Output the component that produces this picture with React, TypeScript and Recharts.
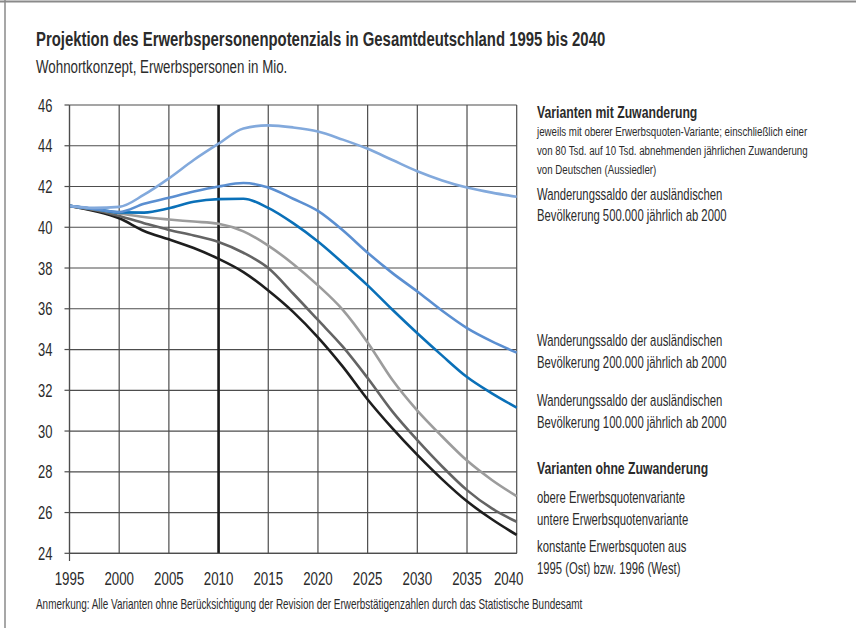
import React from "react";
import {
  CartesianGrid,
  Line,
  LineChart,
  ReferenceLine,
  XAxis,
  YAxis,
} from "recharts";

// Jahre (Stützstellen alle 2,5 Jahre)
const YEARS = [
  1995, 1997.5, 2000, 2002.5, 2005, 2007.5, 2010, 2012.5, 2015, 2017.5, 2020,
  2022.5, 2025, 2027.5, 2030, 2032.5, 2035, 2037.5, 2040,
];

// Varianten mit Zuwanderung
const SALDO_500 = [
  41.05, 40.95, 41.0, 41.6, 42.4, 43.3, 44.1, 44.85, 45.0, 44.9, 44.7, 44.3,
  43.85, 43.3, 42.75, 42.3, 41.95, 41.7, 41.5,
];
const SALDO_200 = [
  41.05, 40.9, 40.75, 41.15, 41.45, 41.75, 42.0, 42.17, 41.95, 41.4, 40.8,
  39.85, 38.75, 37.75, 36.85, 35.9, 35.05, 34.4, 33.85,
];
const SALDO_100 = [
  41.05, 40.9, 40.73, 40.72, 40.93, 41.25, 41.38, 41.4, 40.95, 40.2, 39.3,
  38.25, 37.15, 35.95, 34.8, 33.7, 32.65, 31.85, 31.15,
];

// Varianten ohne Zuwanderung
const OBERE_EQ = [
  41.05, 40.88, 40.68, 40.5, 40.38, 40.28, 40.17, 39.8, 39.1, 38.2, 37.15,
  35.95, 34.35, 32.5, 31.0, 29.73, 28.55, 27.6, 26.8,
];
const UNTERE_EQ = [
  41.05, 40.85, 40.55, 40.2, 39.87, 39.6, 39.28, 38.75, 38.0, 36.75, 35.45,
  34.14, 32.6, 30.95, 29.55, 28.26, 27.1, 26.2, 25.55,
];
const KONSTANTE_EQ = [
  41.05, 40.8, 40.44, 39.82, 39.41, 38.98, 38.45, 37.8, 36.9, 35.85, 34.6,
  33.16, 31.55, 30.13, 28.83, 27.63, 26.55, 25.67, 24.9,
];

const X_TICKS = [1995, 2000, 2005, 2010, 2015, 2020, 2025, 2030, 2035, 2040];
const Y_TICKS = [24, 26, 28, 30, 32, 34, 36, 38, 40, 42, 44, 46];

const rows = YEARS.map((year, i) => ({
  year,
  s500: SALDO_500[i],
  s200: SALDO_200[i],
  s100: SALDO_100[i],
  obere: OBERE_EQ[i],
  untere: UNTERE_EQ[i],
  konstant: KONSTANTE_EQ[i],
}));

const FONT = '"Liberation Sans Narrow", "Liberation Sans", sans-serif';
const SX = 0.72; // schmale Schrift wie im Original
const INK = "#2b2b2b";
const GRID = "#4d4d4d";

// Text, horizontal gestaucht
const T = ({ x, y, size, bold, anchor = "start", children }: any) => (
  <text
    transform={`translate(${x},${y}) scale(${SX},1)`}
    fontFamily={FONT}
    fontSize={size}
    fontWeight={bold ? 700 : 400}
    fill={INK}
    textAnchor={anchor}
  >
    {children}
  </text>
);

const YTick = ({ x, y, payload }: any) => (
  <T x={x} y={y + 6.5} size={18} anchor="end">
    {payload.value}
  </T>
);

// letzte Jahreszahl etwas nach links, wie im Original
const XTick = ({ x, y, payload }: any) => (
  <T x={payload.value === 2040 ? x - 8 : x} y={y + 24} size={18.5} anchor="middle">
    {payload.value}
  </T>
);

export default function App() {
  return (
    <div
      style={{
        position: "absolute",
        left: 0,
        top: 0,
        width: 856,
        height: 628,
        background: "#fff",
      }}
    >
      <LineChart
        width={856}
        height={628}
        data={rows}
        margin={{ top: 105, right: 339.3, bottom: 44.7, left: 29.5 }}
      >
        <CartesianGrid stroke={GRID} strokeWidth={1.2} />
        <XAxis
          type="number"
          dataKey="year"
          domain={[1995, 2040]}
          ticks={X_TICKS}
          interval={0}
          height={30}
          tickLine={false}
          tickSize={0}
          tickMargin={8}
          axisLine={{ stroke: GRID, strokeWidth: 1.2 }}
          tick={XTick}
        />
        <YAxis
          type="number"
          domain={[24, 46]}
          ticks={Y_TICKS}
          interval={0}
          width={40}
          tickSize={5}
          tickMargin={12}
          tickLine={{ stroke: GRID, strokeWidth: 1.2 }}
          axisLine={{ stroke: GRID, strokeWidth: 1.2 }}
          tick={YTick}
        />
        <ReferenceLine x={2010} stroke="#1a1a1a" strokeWidth={2.6} />

        <Line type="monotone" dataKey="konstant" stroke="#1e1e1e" strokeWidth={2.6} dot={false} isAnimationActive={false} />
        <Line type="monotone" dataKey="untere" stroke="#646464" strokeWidth={2.6} dot={false} isAnimationActive={false} />
        <Line type="monotone" dataKey="obere" stroke="#9c9c9c" strokeWidth={2.6} dot={false} isAnimationActive={false} />
        <Line type="monotone" dataKey="s100" stroke="#0a70b8" strokeWidth={2.6} dot={false} isAnimationActive={false} />
        <Line type="monotone" dataKey="s200" stroke="#5b8fd1" strokeWidth={2.6} dot={false} isAnimationActive={false} />
        <Line type="monotone" dataKey="s500" stroke="#82a9dc" strokeWidth={2.6} dot={false} isAnimationActive={false} />
      </LineChart>

      <svg
        width={856}
        height={628}
        style={{ position: "absolute", left: 0, top: 0, pointerEvents: "none" }}
      >
        <line x1={0} y1={1.5} x2={856} y2={1.5} stroke="#8a8a8a" strokeWidth={2} />
        <line x1={5} y1={0} x2={5} y2={628} stroke="#8a8a8a" strokeWidth={1.5} />
        <line x1={69.5} y1={553} x2={69.5} y2={561} stroke={GRID} strokeWidth={1.2} />

        <T x={36} y={46} size={20.7} bold>
          Projektion des Erwerbspersonenpotenzials in Gesamtdeutschland 1995 bis 2040
        </T>
        <T x={36} y={73} size={18.5}>
          Wohnortkonzept, Erwerbspersonen in Mio.
        </T>

        <T x={537} y={118} size={17} bold>
          Varianten mit Zuwanderung
        </T>
        <T x={537} y={136} size={13.5}>
          jeweils mit oberer Erwerbsquoten-Variante; einschließlich einer
        </T>
        <T x={537} y={154.5} size={13.5}>
          von 80 Tsd. auf 10 Tsd. abnehmenden jährlichen Zuwanderung
        </T>
        <T x={537} y={173.5} size={13.5}>
          von Deutschen (Aussiedler)
        </T>
        <T x={537} y={200} size={15.7}>
          Wanderungssaldo der ausländischen
        </T>
        <T x={537} y={221} size={15.7}>
          Bevölkerung 500.000 jährlich ab 2000
        </T>
        <T x={537} y={346} size={15.7}>
          Wanderungssaldo der ausländischen
        </T>
        <T x={537} y={367.5} size={15.7}>
          Bevölkerung 200.000 jährlich ab 2000
        </T>
        <T x={537} y={406} size={15.7}>
          Wanderungssaldo der ausländischen
        </T>
        <T x={537} y={427.5} size={15.7}>
          Bevölkerung 100.000 jährlich ab 2000
        </T>
        <T x={537} y={474} size={17} bold>
          Varianten ohne Zuwanderung
        </T>
        <T x={537} y={502.5} size={15.7}>
          obere Erwerbsquotenvariante
        </T>
        <T x={537} y={525} size={15.7}>
          untere Erwerbsquotenvariante
        </T>
        <T x={537} y={552} size={15.7}>
          konstante Erwerbsquoten aus
        </T>
        <T x={537} y={574} size={15.7}>
          1995 (Ost) bzw. 1996 (West)
        </T>

        <T x={36} y={609} size={13.8}>
          Anmerkung: Alle Varianten ohne Berücksichtigung der Revision der Erwerbstätigenzahlen durch das Statistische Bundesamt
        </T>
      </svg>
    </div>
  );
}
